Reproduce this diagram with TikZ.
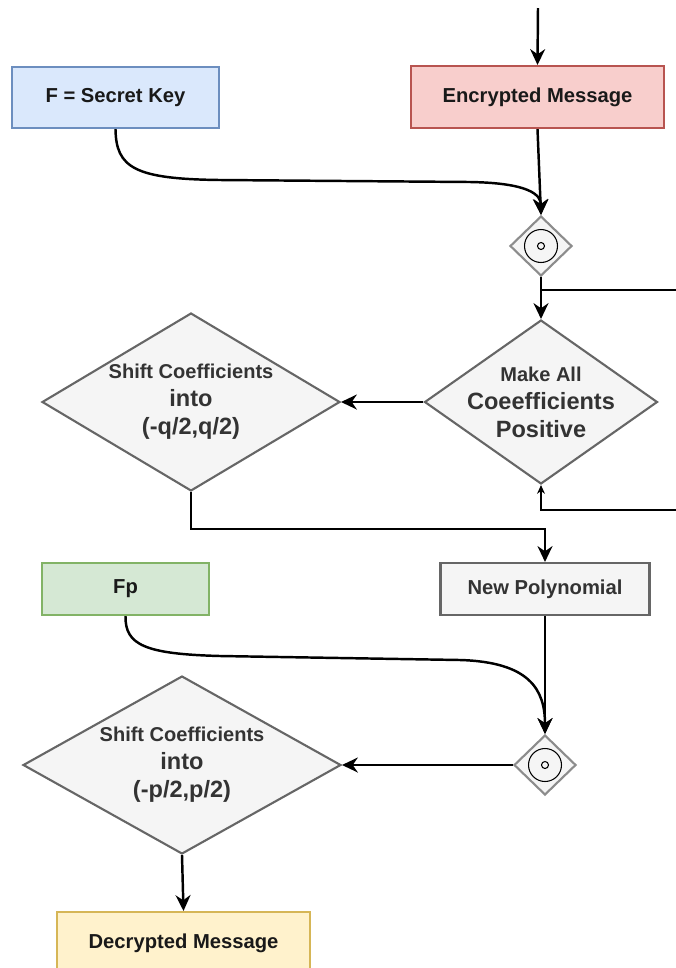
\documentclass[tikz,border=0pt]{standalone}
\usepackage{fontspec}
\setmainfont{Liberation Sans}
\usetikzlibrary{shapes.geometric,arrows.meta}

\definecolor{keyfill}{HTML}{DAE8FC}
\definecolor{keyline}{HTML}{6C8EBF}
\definecolor{encfill}{HTML}{F8CECC}
\definecolor{encline}{HTML}{B85450}
\definecolor{polyfill}{HTML}{F5F5F5}
\definecolor{polyline}{HTML}{666666}
\definecolor{fpfill}{HTML}{D5E8D4}
\definecolor{fpline}{HTML}{82B366}
\definecolor{decfill}{HTML}{FFF2CC}
\definecolor{decline}{HTML}{D6B656}
\definecolor{darktext}{HTML}{333333}

\begin{document}
\begin{tikzpicture}[x=0.02cm,y=-0.02cm,
  box/.style={draw,line width=1.2pt,minimum width=5.06cm,minimum height=1.24cm,inner sep=0pt,
    font=\fontsize{11.5}{14}\selectfont\bfseries,text=black!90},
  bigdia/.style={diamond,draw=polyline,fill=polyfill,line width=1.2pt,inner sep=0pt},
  smalldia/.style={diamond,draw=polyline!75,fill=polyfill,line width=1.2pt,inner sep=0pt,
    minimum width=1.24cm,minimum height=1.2cm},
  dialabel/.style={align=center,text=darktext,font=\fontsize{13.4}{16}\selectfont\bfseries},
  flow/.style={line width=1.4pt,-{Stealth[length=9pt,width=8.5pt]}},
  loopline/.style={line width=0.7pt},
  looparrow/.style={line width=0.7pt,-{Stealth[length=5pt,width=4.5pt]}}]

  \clip (0,0) rectangle (676,968);

  \draw (537.5,97) node[box,fill=encfill,draw=encline] (enc) {Encrypted Message};
  \draw (115.5,97.5) node[box,fill=keyfill,draw=keyline,minimum width=4.14cm,minimum height=1.22cm] (fkey) {F = Secret Key};
  \draw (541,246) node[smalldia] (dia1) {};
  \draw (541,402) node[bigdia,minimum width=4.66cm,minimum height=3.28cm] (make) {}
    node[dialabel] {{\fontsize{11.4}{16}\selectfont Make All}\\Coeefficients\\Positive};
  \draw (191,402) node[bigdia,minimum width=5.96cm,minimum height=3.56cm] (shiftq) {}
    node[dialabel] {{\fontsize{11.4}{16}\selectfont Shift Coefficients}\\into\\(-q/2,q/2)};
  \draw (545,589) node[box,fill=polyfill,draw=polyline,text=darktext,minimum width=4.18cm,minimum height=1.04cm] (newpoly) {New Polynomial};
  \draw (125.5,589) node[box,fill=fpfill,draw=fpline,minimum width=3.34cm,minimum height=1.04cm] (fp) {Fp};
  \draw (545,765) node[smalldia] (dia2) {};
  \draw (182,765) node[bigdia,minimum width=6.36cm,minimum height=3.56cm] (shiftp) {}
    node[dialabel] {{\fontsize{11.4}{16}\selectfont Shift Coefficients}\\into\\(-p/2,p/2)};
  \draw (183.5,943) node[box,fill=decfill,draw=decline] (dec) {Decrypted Message};

  \draw[line width=0.6pt] (dia1) circle[radius=0.33cm] (dia1) circle[radius=0.07cm];
  \draw[line width=0.6pt] (dia2) circle[radius=0.33cm] (dia2) circle[radius=0.07cm];

  \coordinate (start) at (538,8);
  \coordinate (loopa) at (541,290);
  \coordinate (loopb) at (676,290);
  \coordinate (loopc) at (676,510);

  \draw[flow] (start) -- (enc.north);
  \draw[flow] (enc.south) -- (dia1.north);
  \draw[flow] (fkey.south) .. controls (116,168) and (135,179) .. (220,180)
    -- (470,182) .. controls (530,183) and (541,195) .. (dia1.north);
  \draw[flow] (dia1.south) -- (make.north);
  \draw[loopline] (loopa) -- (loopb);
  \draw[looparrow] (loopc) -| (make.south);
  \draw[flow] (make.west) -- (shiftq.east);
  \draw[flow] (shiftq.south) -- ++(0,37) -| (newpoly.north);
  \draw[flow] (newpoly.south) -- (dia2.north);
  \draw[flow] (fp.south) .. controls (125,645) and (145,654) .. (220,656)
    -- (460,660) .. controls (530,662) and (545,690) .. (dia2.north);
  \draw[flow] (dia2.west) -- (shiftp.east);
  \draw[flow] (shiftp.south) -- (dec.north);

\end{tikzpicture}
\end{document}
